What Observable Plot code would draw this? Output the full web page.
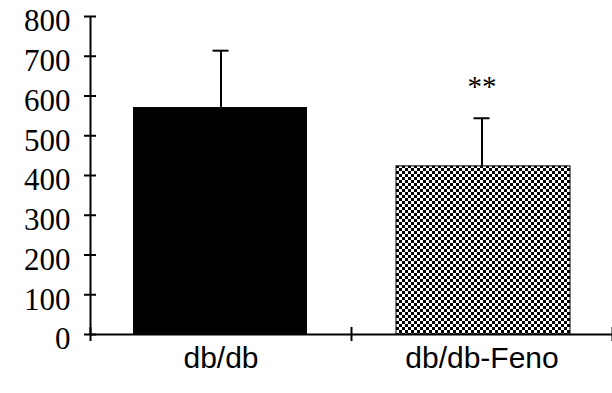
<!DOCTYPE html>
<html>
<head>
<meta charset="utf-8">
<script src="https://cdn.jsdelivr.net/npm/d3@7"></script>
<script src="https://cdn.jsdelivr.net/npm/@observablehq/plot@0.6"></script>
<style>
  html, body { margin: 0; padding: 0; background: #fff; }
  #chart svg { display: block; background: #fff; }
</style>
</head>
<body>
<div id="chart"></div>
<script>
const categories = ["db/db", "db/db-Feno"];
const means = [571, 423];
const sds = [143, 121];
const annotations = ["", "**"];
const yTicks = [0, 100, 200, 300, 400, 500, 600, 700, 800];

const data = categories.map((c, i) => ({i, c, m: means[i], sd: sds[i], note: annotations[i]}));
const boundaries = d3.range(categories.length + 1);

const plot = Plot.plot({
  width: 612,
  height: 393,
  marginLeft: 90,
  marginRight: 0,
  marginTop: 16,
  marginBottom: 59,
  x: {type: "linear", domain: [0, categories.length], axis: null},
  y: {domain: [0, 800], axis: null},
  marks: [
    // bars
    Plot.rect(data.slice(0, 1), {x1: d => d.i, x2: d => d.i + 1, y1: 0, y2: "m", fill: "black", insetLeft: 43, insetRight: 44}),
    Plot.rect(data.slice(1), {x1: d => d.i, x2: d => d.i + 1, y1: 0, y2: "m", fill: "url(#checker)", stroke: "black", strokeWidth: 1, insetLeft: 45, insetRight: 42}),
    // error bars
    Plot.ruleX(data, {x: d => d.i + 0.5, y1: "m", y2: d => d.m + d.sd, stroke: "black", strokeWidth: 2}),
    Plot.ruleY(data, {y: d => d.m + d.sd, x1: d => d.i + 0.5, x2: d => d.i + 0.5, insetLeft: -8, insetRight: -8, stroke: "black", strokeWidth: 2}),
    // axes lines
    Plot.ruleX([0], {y1: 0, y2: 800, stroke: "black", strokeWidth: 2}),
    Plot.ruleY([0], {x1: 0, x2: categories.length, stroke: "black", strokeWidth: 2}),
    // y ticks (crossing)
    Plot.ruleY(yTicks, {y: d => d, x1: 0, x2: 0, insetLeft: -6, insetRight: -6, stroke: "black", strokeWidth: 2}),
    // x ticks at category boundaries (crossing)
    Plot.ruleX(boundaries, {x: d => d, y1: 0, y2: 0, insetTop: -7, insetBottom: -7, stroke: "black", strokeWidth: 2}),
    // y tick labels
    Plot.text(yTicks, {x: 0, y: d => d, text: d => String(d), textAnchor: "end", dx: -20, dy: 5, fontFamily: "Liberation Serif", fontSize: 31, fill: "black"}),
    // category labels
    Plot.text(data, {x: d => d.i + 0.5, y: 0, text: "c", dy: 24, lineAnchor: "middle", fontFamily: "Liberation Sans", fontSize: 30, fill: "black"}),
    // significance
    Plot.text(data, {x: d => d.i + 0.5, y: d => d.m + d.sd, text: "note", dy: -22, lineAnchor: "bottom", fontFamily: "Liberation Serif", fontSize: 29, fill: "black"})
  ]
});

const defs = document.createElementNS("http://www.w3.org/2000/svg", "defs");
defs.innerHTML = `<pattern id="checker" patternUnits="userSpaceOnUse" width="6" height="6">
  <rect width="6" height="6" fill="black"></rect>
  <rect x="0" y="0" width="3" height="3" fill="white"></rect>
  <rect x="3" y="3" width="3" height="3" fill="white"></rect>
</pattern>`;
plot.insertBefore(defs, plot.firstChild);
document.getElementById("chart").appendChild(plot);
</script>
</body>
</html>
